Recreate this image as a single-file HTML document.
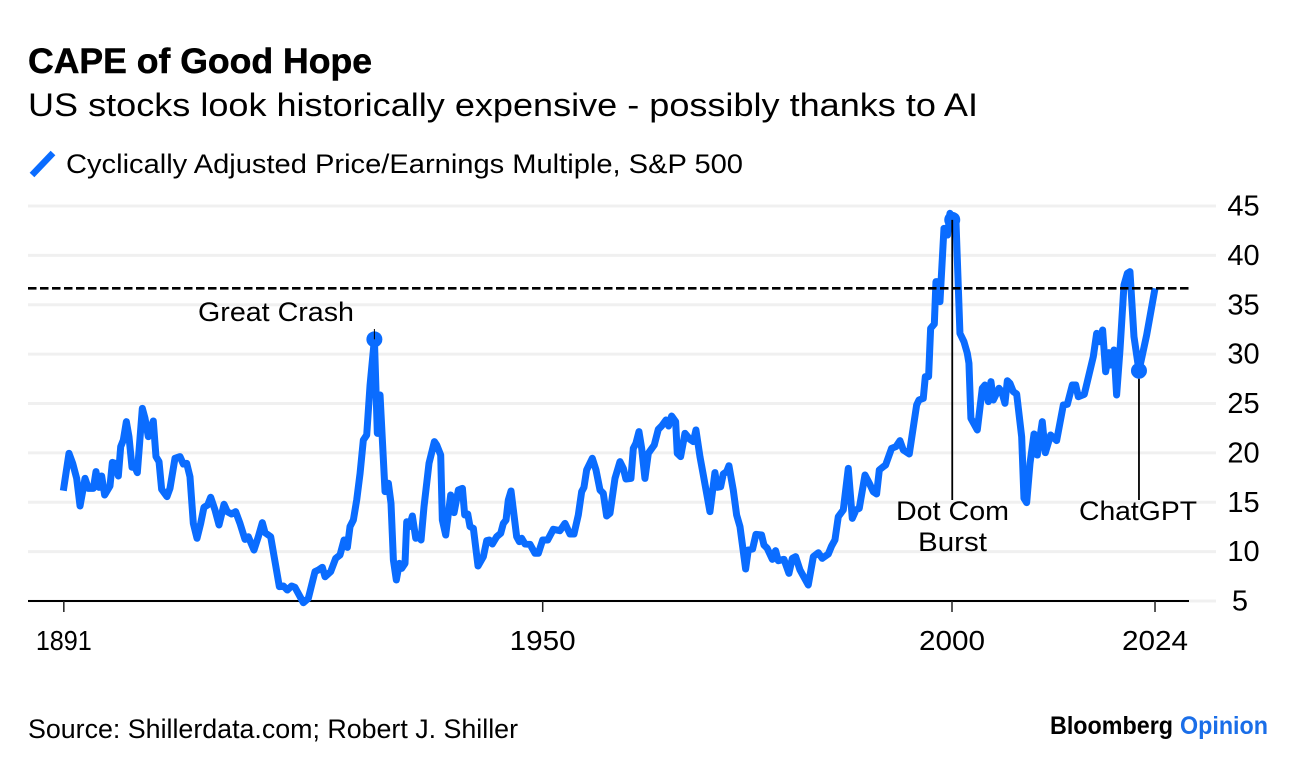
<!DOCTYPE html>
<html lang="en">
<head>
<meta charset="utf-8">
<title>CAPE of Good Hope</title>
<style>
html,body{margin:0;padding:0;background:#fff;}
svg{display:block;}
text{font-family:"Liberation Sans",Arial,sans-serif;fill:#000;}
</style>
</head>
<body>
<svg id="chart" xmlns="http://www.w3.org/2000/svg" width="1296" height="770" viewBox="0 0 1296 770">
  <rect width="1296" height="770" fill="#fff"/>
  <text x="28" y="73" font-size="35" font-weight="700" stroke="#000" stroke-width="0.5" textLength="344" lengthAdjust="spacingAndGlyphs">CAPE of Good Hope</text>
  <text x="28" y="116" font-size="32" textLength="950" lengthAdjust="spacingAndGlyphs">US stocks look historically expensive - possibly thanks to AI</text>
  <line x1="32" y1="175" x2="53" y2="153" stroke="#0a6cff" stroke-width="6.5"/>
  <text x="66" y="173" font-size="27" textLength="677" lengthAdjust="spacingAndGlyphs">Cyclically Adjusted Price/Earnings Multiple, S&amp;P 500</text>
  <g id="grid"></g>
  <g id="yLabels"></g>
  <line x1="28" y1="601" x2="1189" y2="601" stroke="#000" stroke-width="2"/>
  <g id="xAxis"></g>
  <path id="series" fill="none" stroke="#0a6cff" stroke-width="7" stroke-linejoin="round" stroke-linecap="butt"/>
  <line id="refLine" x1="28" x2="1190" stroke="#000" stroke-width="2.6" stroke-dasharray="8.5 3.5"/>
  <g id="events"></g>
  <text x="198" y="321" font-size="27" textLength="156" lengthAdjust="spacingAndGlyphs">Great Crash</text>
  <text x="896" y="520" font-size="27" textLength="113" lengthAdjust="spacingAndGlyphs">Dot Com</text>
  <text x="918" y="551" font-size="27" textLength="69" lengthAdjust="spacingAndGlyphs">Burst</text>
  <text x="1079" y="520" font-size="27" textLength="118" lengthAdjust="spacingAndGlyphs">ChatGPT</text>
  <text x="28" y="738" font-size="27" textLength="490" lengthAdjust="spacingAndGlyphs">Source: Shillerdata.com; Robert J. Shiller</text>
  <text x="1050" y="734" font-size="25" font-weight="700" textLength="123" lengthAdjust="spacingAndGlyphs">Bloomberg</text>
  <text x="1180" y="734" font-size="25" font-weight="700" style="fill:#1a6ee8" textLength="88" lengthAdjust="spacingAndGlyphs">Opinion</text>
</svg>
<script>
const years = [
1891.44,1892.13,1892.58,1893.07,1893.48,1894.09,1894.50,1895.11,1895.43,1895.80,1896.12,1896.49,1897.14,1897.43,1897.75,1898.16,1898.45,1898.77,1899.14,1899.46,1899.83,1900.20,1900.48,1901.09,1901.42,1901.82,1902.43,1902.76,1903.13,1903.45,1904.10,1904.47,1905.08,1905.69,1906.10,1906.51,1906.91,1907.32,1907.77,1908.22,1908.62,1909.07,1909.44,1909.97,1910.46,1911.07,1911.47,1912.00,1912.49,1913.02,1913.63,1914.04,1914.73,1915.26,1915.75,1916.08,1916.77,1917.30,1917.83,1918.32,1918.80,1919.33,1919.74,1920.76,1921.37,1922.18,1922.59,1923.08,1923.41,
1924.10,1924.71,1925.24,1925.73,1926.14,1926.46,1926.87,1927.28,1927.69,1928.09,1928.50,1928.91,1929.44,1929.80,1930.13,1930.74,1931.15,1931.47,1931.76,1932.12,1932.49,1932.78,1933.18,1933.39,1933.71,1934.08,1934.49,1934.81,1935.14,1935.50,1936.11,1936.77,1937.05,1937.54,1937.74,1938.15,1938.76,1939.17,1939.70,1940.19,1940.47,1940.84,1941.12,1941.53,1942.10,1942.75,1943.16,1943.48,1943.85,1944.38,1944.87,1945.19,1945.52,1945.80,1946.13,1946.82,1947.15,1947.43,1947.84,1948.45,1949.06,1949.47,1950.00,1950.61,1951.30,
1952.11,1952.72,1953.33,1953.82,1954.35,1954.76,1955.04,1955.37,1956.06,1956.51,1957.00,1957.40,1957.81,1958.22,1958.83,1959.44,1959.85,1960.17,1960.78,1961.07,1961.39,1961.76,1962.09,1962.49,1962.90,1963.19,1963.63,1964.12,1964.53,1965.06,1965.38,1965.75,1966.24,1966.44,1966.85,1967.38,1967.99,1968.40,1968.72,1969.21,1969.62,1970.43,1971.04,1971.33,1971.74,1972.06,1972.47,1972.75,1973.28,1973.69,1974.10,1974.79,1975.11,1975.64,1976.05,1976.74,1977.03,1977.43,1978.05,1978.45,1978.78,1979.47,1980.08,1980.49,1980.90,1981.43,1982.44,1983.06,1983.67,1984.15,1984.89,1985.29,1985.70,1986.11,1986.72,
1987.33,1987.82,1988.27,1988.67,1989.37,1989.90,1990.38,1990.79,1991.12,1991.61,1991.89,1992.62,1993.15,1993.64,1994.05,1994.37,1994.78,1995.68,1995.96,1996.49,1996.74,1997.14,1997.39,1997.84,1998.04,1998.20,1998.53,1999.02,1999.46,1999.75,2000.03,2000.48,2000.97,2001.46,2001.87,2002.07,2002.31,2003.09,2003.70,
2004.03,2004.44,2004.76,2005.05,2005.74,2006.07,2006.47,2006.76,2007.08,2007.49,2007.90,2008.51,2008.79,2009.12,2009.53,2010.02,2010.42,2011.03,2011.40,2012.05,2012.78,2013.60,2014.09,2014.70,2015.11,2015.43,2016.16,2017.26,2017.67,2018.00,2018.40,2018.77,2019.18,2019.38,2019.79,2020.11,2020.52,2021.01,2021.42,2021.74,2022.23,2022.84,2023.78,2024.80
];
const capeValues = [
16.17,19.95,18.94,17.42,14.62,17.42,16.41,16.41,18.10,16.51,17.66,15.73,16.65,19.04,18.94,17.66,20.63,21.30,23.16,21.64,18.54,18.54,18.00,24.51,23.50,21.64,23.23,19.62,19.11,16.31,15.57,16.41,19.45,19.62,18.87,18.94,17.59,12.86,11.35,12.86,14.49,14.72,15.50,14.22,12.70,14.79,14.05,13.81,14.05,12.86,11.24,11.51,10.16,11.51,12.93,11.92,11.51,8.98,6.45,6.52,6.11,6.52,6.38,4.83,5.27,7.97,8.14,8.41,7.46,
7.97,9.32,9.66,11.18,10.43,12.53,13.20,15.23,17.93,21.30,21.81,26.87,31.50,21.98,25.86,16.07,16.92,14.89,9.15,7.13,8.81,8.31,8.81,13.03,12.53,13.61,11.35,11.68,11.18,14.55,18.94,21.14,20.80,19.78,13.20,11.68,15.73,13.95,16.24,16.41,13.71,13.81,12.53,12.36,8.54,9.49,11.11,11.18,10.77,11.51,11.85,12.86,13.20,15.23,16.14,11.51,11.01,11.35,10.77,10.74,9.83,9.83,11.18,11.18,12.26,
12.12,12.86,11.78,11.78,13.71,16.07,16.51,18.27,19.45,18.27,16.24,15.90,13.61,13.88,17.42,19.11,18.43,17.35,17.42,20.46,20.97,22.15,20.46,17.42,19.95,20.29,20.80,22.38,22.72,23.33,22.72,23.73,23.16,19.95,19.62,21.98,21.37,21.14,22.32,19.62,17.76,14.05,18.00,16.51,16.58,17.86,18.10,18.70,16.24,13.71,12.53,8.24,10.16,10.27,11.75,11.68,10.67,10.33,9.22,10.10,9.08,9.22,7.80,9.32,9.49,8.14,6.62,9.49,9.89,9.32,9.76,10.57,11.18,13.54,14.22,
18.43,13.37,14.22,14.38,17.76,16.92,16.07,15.84,18.27,18.60,18.77,20.46,20.63,21.24,20.29,20.12,19.89,24.85,25.35,25.52,27.72,27.72,32.61,33.05,37.34,37.34,35.31,42.74,42.06,44.26,43.75,43.60,32.10,31.26,30.08,29.07,23.50,22.32,26.54,
26.87,25.19,27.21,25.35,26.54,26.20,25.02,27.31,27.04,26.20,25.96,21.64,15.40,14.96,18.94,21.91,19.78,23.16,20.02,21.81,21.24,24.85,24.92,26.87,26.87,25.69,25.93,29.74,32.10,31.26,32.44,28.22,30.15,28.90,30.42,25.86,30.42,37.00,38.18,38.35,31.77,28.32,31.94,36.66
];
const yTicks = [5,10,15,20,25,30,35,40,45];
const xTickYears = [1891.5,1950,2000,2024.8];
const xTickLabels = ['1891','1950','2000','2024'];
const referenceValue = 36.66;
const eventYears = [1929.44,2000.03,2022.84];
const eventValues = [31.5,43.6,28.32];

const NS = 'http://www.w3.org/2000/svg';
const xPos = function (yr) { return 542.7 + (yr - 1950) * 8.186; };
const yPos = function (v) { return 601 - (v - 5) * 9.875; };

const grid = document.getElementById('grid');
const yLabels = document.getElementById('yLabels');
yTicks.forEach(function (t) {
  const l = document.createElementNS(NS, 'line');
  
  
  l.setAttribute('x1', 28);
  l.setAttribute('x2', 1216);
  l.setAttribute('y1', yPos(t));
  l.setAttribute('y2', yPos(t));
  l.setAttribute('stroke', '#f0f0f0');
  l.setAttribute('stroke-width', 3);
  grid.appendChild(l);
  const s = document.createElementNS(NS, 'text');
  
  
  s.setAttribute('x', t < 10 ? 1240 : 1243.5);
  s.setAttribute('y', yPos(t) + 9.5);
  s.setAttribute('text-anchor', 'middle');
  s.setAttribute('font-size', 29);
  s.textContent = String(t);
  yLabels.appendChild(s);
});

const xAxis = document.getElementById('xAxis');
xTickYears.forEach(function (yr, i) {
  const l = document.createElementNS(NS, 'line');
  
  
  l.setAttribute('x1', xPos(yr));
  l.setAttribute('x2', xPos(yr));
  l.setAttribute('y1', 601);
  l.setAttribute('y2', 612);
  l.setAttribute('stroke', '#222');
  l.setAttribute('stroke-width', 1.5);
  xAxis.appendChild(l);
  const s = document.createElementNS(NS, 'text');
  
  
  s.setAttribute('x', xPos(yr));
  s.setAttribute('y', 650);
  s.setAttribute('text-anchor', 'middle');
  s.setAttribute('font-size', 28);
  s.setAttribute('textLength', xTickLabels[i] === '1891' ? 56 : 66);
  s.setAttribute('lengthAdjust', 'spacingAndGlyphs');
  s.textContent = xTickLabels[i];
  xAxis.appendChild(s);
});

document.getElementById('series').setAttribute('d', years.map(function (yr, i) {
  return (i ? 'L' : 'M') + xPos(yr).toFixed(2) + ' ' + yPos(capeValues[i]).toFixed(2);
}).join(''));

const ref = document.getElementById('refLine');
ref.setAttribute('y1', yPos(referenceValue));
ref.setAttribute('y2', yPos(referenceValue));

const events = document.getElementById('events');
const eventEnds = [329, 500, 500];
eventYears.forEach(function (yr, i) {
  const c = document.createElementNS(NS, 'circle');
  
  
  c.setAttribute('cx', xPos(yr));
  c.setAttribute('cy', yPos(eventValues[i]));
  c.setAttribute('r', 8);
  c.setAttribute('fill', '#0a6cff');
  events.appendChild(c);
  const l = document.createElementNS(NS, 'line');
  
  
  l.setAttribute('x1', xPos(yr));
  l.setAttribute('x2', xPos(yr));
  l.setAttribute('y1', i === 2 ? yPos(eventValues[i]) + 8 : yPos(eventValues[i]));
  l.setAttribute('y2', eventEnds[i]);
  l.setAttribute('stroke', '#000');
  l.setAttribute('stroke-width', i === 0 ? 1 : 1.8);
  events.appendChild(l);
});
</script>
</body>
</html>
